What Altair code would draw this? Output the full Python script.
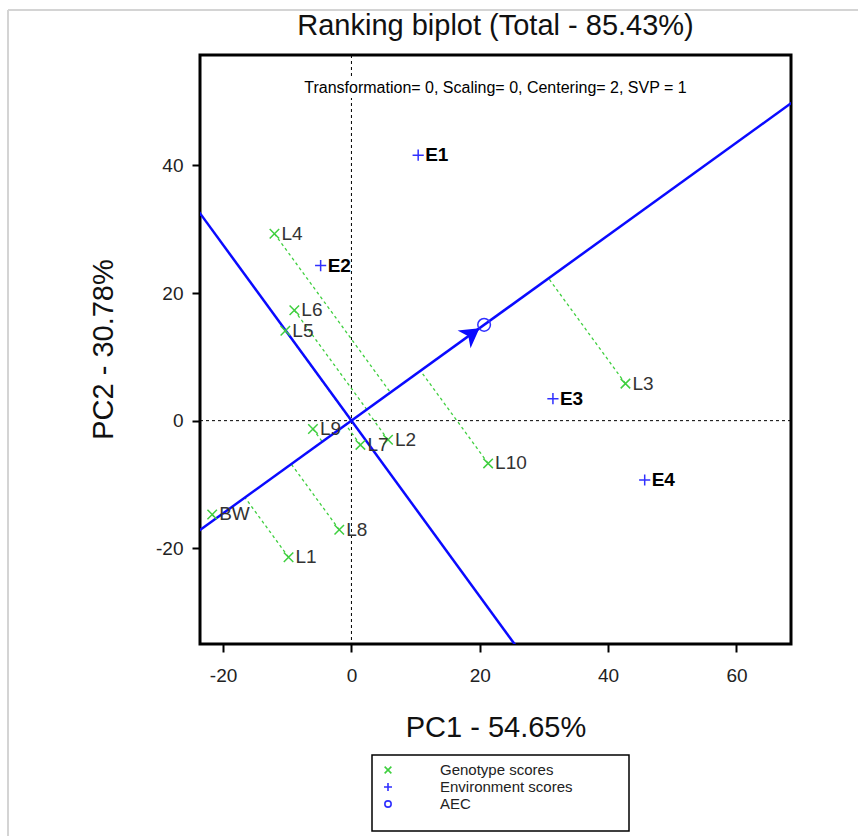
import altair as alt
import numpy as np
import pandas as pd

# ---- data ----
gen_names = ["L1", "L2", "L3", "L4", "L5", "L6", "L7", "L8", "L9", "L10", "BW"]
gen_pc1 = [-9.8, 5.7, 42.7, -12.0, -10.3, -8.9, 1.4, -1.9, -6.0, 21.3, -21.7]
gen_pc2 = [-21.4, -3.0, 5.8, 29.3, 14.1, 17.3, -3.8, -17.1, -1.3, -6.7, -14.7]
env_names = ["E1", "E2", "E3", "E4"]
env_pc1 = [10.4, -4.8, 31.4, 45.7]
env_pc2 = [41.6, 24.3, 3.45, -9.3]
x_ticks = [-20, 0, 20, 40, 60]
y_ticks = [-20, 0, 20, 40]
legend_types = ["Genotype scores", "Environment scores", "AEC"]

FONT = "Liberation Sans"
GREEN = "#3fcf3f"
BLUE = "#0a0aff"
BLUE_PT = "#3030ff"
XPATH = "M-1,-1L1,1M-1,1L1,-1"
PPATH = "M-1,0L1,0M0,-1L0,1"
type_colors = [GREEN, BLUE_PT, BLUE_PT]
type_shapes = [XPATH, PPATH, "circle"]
type_sizes = [90, 160, 42]
legend_sizes = [45, 64, 40]

# ---- derived geometry (AEC = mean environment) ----
ax, ay = float(np.mean(env_pc1)), float(np.mean(env_pc2))
n2 = ax * ax + ay * ay
gen_df = pd.DataFrame({"name": gen_names, "x": gen_pc1, "y": gen_pc2})
t = (gen_df["x"] * ax + gen_df["y"] * ay) / n2
gen_df["x2"] = t * ax
gen_df["y2"] = t * ay
env_df = pd.DataFrame({"name": env_names, "x": env_pc1, "y": env_pc2})

pts = pd.concat([
    gen_df[["x", "y"]].assign(type=legend_types[0]),
    env_df[["x", "y"]].assign(type=legend_types[1]),
    pd.DataFrame({"x": [ax], "y": [ay], "type": [legend_types[2]]}),
], ignore_index=True)

k = 6.0
axes_df = pd.DataFrame({
    "x": [-k * ax, k * ay], "y": [-k * ay, -k * ax],
    "x2": [k * ax, -k * ay], "y2": [k * ay, k * ax],
})
frac = 0.965
arrow_df = pd.DataFrame({"x": [frac * ax], "y": [frac * ay]})
arrow_angle = (360.0 - np.degrees(np.arctan2(ay, ax))) % 360.0
zero_df = pd.DataFrame({"v": [0.0]})
dummy = pd.DataFrame({"d": [0]})

xs = alt.Scale(domain=[-23.6, 68.5], nice=False, zero=False)
ys = alt.Scale(domain=[-35.0, 57.3], nice=False, zero=False)
xaxis = alt.Axis(values=x_ticks, title="PC1 - 54.65%", titleY=83, titleBaseline="middle",
                 labelPadding=14, labelFlush=False, labelExpr="toString(datum.value)")
yaxis = alt.Axis(values=y_ticks, title="PC2 - 30.78%", titleX=-97, titleY=294,
                 titleAngle=270, titleBaseline="middle", titleAlign="center",
                 labelPadding=9, labelExpr="toString(datum.value)")


def X(f):
    return alt.X(f"{f}:Q", scale=xs, axis=xaxis)


def Y(f):
    return alt.Y(f"{f}:Q", scale=ys, axis=yaxis)


# page border (top and left only, as in the reference)
border_top = alt.Chart(dummy).mark_rule(color="#d4d4d4", strokeWidth=2).encode(
    x=alt.value(-192), x2=alt.value(660), y=alt.value(-45))
border_left = alt.Chart(dummy).mark_rule(color="#d4d4d4", strokeWidth=2).encode(
    x=alt.value(-192), y=alt.value(-45), y2=alt.value(785))

zero_h = alt.Chart(zero_df).mark_rule(color="black", strokeDash=[3, 3], strokeWidth=1).encode(y=Y("v"))
zero_v = alt.Chart(zero_df).mark_rule(color="black", strokeDash=[3, 3], strokeWidth=1).encode(x=X("v"))

sub_bg = alt.Chart(dummy).mark_rect(color="white").encode(
    x=alt.value(100), x2=alt.value(490), y=alt.value(24), y2=alt.value(43))
subtitle = alt.Chart(dummy).mark_text(
    text="Transformation= 0, Scaling= 0, Centering= 2, SVP = 1", fontSize=16, font=FONT,
    color="black", align="center", baseline="middle").encode(x=alt.value(295.5), y=alt.value(33))

proj = alt.Chart(gen_df).mark_rule(color=GREEN, strokeDash=[3, 3], strokeWidth=1.3).encode(
    x=X("x"), y=Y("y"), x2="x2:Q", y2="y2:Q")

blue_lines = alt.Chart(axes_df).mark_rule(color=BLUE, strokeWidth=2.5, clip=True).encode(
    x=X("x"), y=Y("y"), x2="x2:Q", y2="y2:Q")

points = alt.Chart(pts).mark_point(filled=False, strokeWidth=1.5, opacity=1).encode(
    x=X("x"), y=Y("y"),
    color=alt.Color("type:N", scale=alt.Scale(domain=legend_types, range=type_colors), legend=None),
    shape=alt.Shape("type:N", scale=alt.Scale(domain=legend_types, range=type_shapes), legend=None),
    size=alt.Size("type:N", scale=alt.Scale(domain=legend_types, range=type_sizes), legend=None),
)

gen_lab = alt.Chart(gen_df).mark_text(align="left", baseline="middle", dx=7, fontSize=19,
                                      font=FONT, color="#333").encode(x=X("x"), y=Y("y"), text="name:N")
env_lab = alt.Chart(env_df).mark_text(align="left", baseline="middle", dx=7, fontSize=19,
                                      font=FONT, fontWeight="bold", color="black").encode(
    x=X("x"), y=Y("y"), text="name:N")

arrow = alt.Chart(arrow_df).mark_point(shape="M0,0L-1.73,-1L-1.25,0L-1.73,1Z", filled=True, size=484,
                                       color=BLUE, opacity=1, angle=float(arrow_angle)).encode(
    x=X("x"), y=Y("y"))

# legend box drawn with marks
leg_layers = [alt.Chart(dummy).mark_rect(fill="white", stroke="black", strokeWidth=1.5).encode(
    x=alt.value(172), x2=alt.value(429), y=alt.value(700), y2=alt.value(776))]
for i, name in enumerate(legend_types):
    d = pd.DataFrame({"type": [name]})
    yy = 715 + i * 17
    leg_layers.append(alt.Chart(d).mark_point(shape=type_shapes[i], filled=False, color=type_colors[i],
                                              size=legend_sizes[i], strokeWidth=1.6, opacity=1).encode(
        x=alt.value(188), y=alt.value(yy)))
    leg_layers.append(alt.Chart(d).mark_text(align="left", baseline="middle", fontSize=15, font=FONT,
                                             color="#222").encode(
        x=alt.value(240), y=alt.value(yy), text="type:N"))

chart = alt.layer(border_top, border_left, zero_h, zero_v, sub_bg, subtitle, proj, blue_lines, points,
                  gen_lab, env_lab, arrow, *leg_layers).properties(
    width=591, height=589,
    title=alt.TitleParams("Ranking biplot (Total - 85.43%)", fontSize=29, font=FONT, fontWeight="normal",
                          color="#111", anchor="middle", frame="group", offset=-32),
    padding={"left": 200, "top": 55, "right": 67, "bottom": 192},
    autosize=alt.AutoSizeParams(type="none"),
    background="white",
).configure_view(stroke="black", strokeWidth=3).configure_axis(
    domain=False, grid=False, tickColor="black", tickWidth=2, tickSize=8,
    labelFont=FONT, labelFontSize=19, labelColor="#222",
    titleFont=FONT, titleFontSize=29, titleFontWeight="normal", titleColor="#111",
)

chart.save("out.html", embed_options={"renderer": "svg", "actions": False})
